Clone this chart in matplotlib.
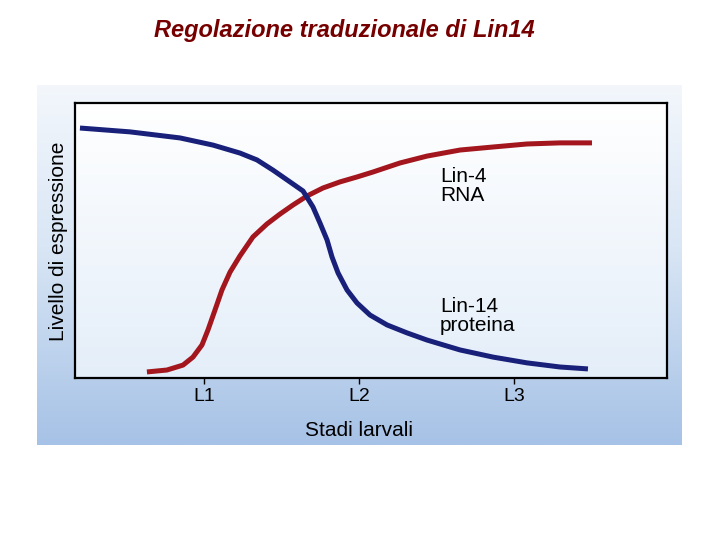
import numpy as np
import matplotlib
matplotlib.use("Agg")
import matplotlib.pyplot as plt
from matplotlib.colors import LinearSegmentedColormap

# ---- data (x in larval-stage units: L1=1, L2=2, L3=3; y = expression level 0-100)
stage_ticks = [1, 2, 3]
stage_labels = ["L1", "L2", "L3"]

lin14_x = [0.200, 0.523, 0.845, 1.058, 1.232, 1.342, 1.445, 1.555, 1.639, 1.703,
           1.748, 1.794, 1.826, 1.865, 1.923, 1.987, 2.071, 2.181, 2.310, 2.439,
           2.652, 2.865, 3.084, 3.297, 3.477]
lin14_y = [90.9, 89.5, 87.3, 84.7, 81.8, 79.3, 75.6, 71.3, 68.0, 62.2,
           56.4, 50.2, 44.0, 38.2, 32.0, 27.3, 22.9, 19.3, 16.4, 13.8,
           10.2, 7.6, 5.5, 4.0, 3.3]

lin4_x = [0.632, 0.761, 0.865, 0.929, 0.987, 1.026, 1.071, 1.116, 1.168, 1.232,
          1.316, 1.406, 1.490, 1.574, 1.665, 1.768, 1.877, 1.987, 2.090, 2.265,
          2.439, 2.652, 2.865, 3.084, 3.297, 3.503]
lin4_y = [2.2, 2.9, 4.7, 7.6, 12.0, 17.5, 24.7, 32.0, 38.5, 44.4,
          51.3, 56.0, 59.6, 62.9, 66.2, 69.1, 71.3, 73.1, 74.9, 78.2,
          80.7, 82.9, 84.0, 85.1, 85.5, 85.5]

title = "Regolazione traduzionale di Lin14"
xlabel = "Stadi larvali"
ylabel = "Livello di espressione"
label_rna = "Lin-4\nRNA"
label_prot = "Lin-14\nproteina"

W, H = 720, 540
fig = plt.figure(figsize=(W / 100, H / 100), dpi=100)
fig.patch.set_facecolor("white")

def rect(x0, y0, x1, y1):
    return [x0 / W, 1 - y1 / H, (x1 - x0) / W, (y1 - y0) / H]

# outer gradient panel
bg = fig.add_axes(rect(37, 85, 682, 445), zorder=0)
cmap_out = LinearSegmentedColormap.from_list(
    "out", [(0.0, "#f3f7fc"), (0.45, "#d9e6f5"), (1.0, "#a6c2e6")])
grad = np.linspace(0, 1, 256).reshape(-1, 1)
bg.imshow(grad, aspect="auto", cmap=cmap_out, extent=[0, 1, 1, 0])
bg.set_axis_off()

# main axes
ax = fig.add_axes(rect(75, 103, 667, 378), zorder=1)
cmap_in = LinearSegmentedColormap.from_list("in", [(0.0, "#ffffff"), (1.0, "#e4eef9")])
ax.imshow(grad, aspect="auto", cmap=cmap_in, extent=[0, 1, 0, 1],
          transform=ax.transAxes, zorder=0)

ax.plot(lin14_x, lin14_y, color="#18207a", lw=3.6, solid_capstyle="butt",
        solid_joinstyle="round", zorder=3)
ax.plot(lin4_x, lin4_y, color="#a3161d", lw=3.6, solid_capstyle="butt",
        solid_joinstyle="round", zorder=2)

ax.set_xlim(0.168, 3.987)
ax.set_ylim(0, 100)
ax.set_xticks(stage_ticks)
ax.set_xticklabels(stage_labels, fontfamily="Liberation Sans", fontsize=14)
ax.set_yticks([])
ax.tick_params(axis="x", direction="out", length=4, width=1, pad=3, color="black")
for s in ax.spines.values():
    s.set_linewidth(1.6)
    s.set_color("black")

ax.text(2.523, 76.7, label_rna, fontfamily="Liberation Sans", fontsize=15,
        va="top", ha="left", linespacing=1.0)
ax.text(2.523, 29.5, label_prot, fontfamily="Liberation Sans", fontsize=15,
        va="top", ha="left", linespacing=1.0)

fig.text(359 / W, 1 - 430 / H, xlabel, fontfamily="Liberation Sans", fontsize=15,
         ha="center", va="center")
fig.text(58 / W, 1 - 241 / H, ylabel, fontfamily="Liberation Sans", fontsize=15,
         ha="center", va="center", rotation=90)

fig.text(344 / W, 1 - 31 / H, title, fontfamily="Liberation Sans", fontstyle="italic",
         fontweight="bold", fontsize=17, color="#760000", ha="center", va="center")

fig.savefig("out.png", dpi=100)
